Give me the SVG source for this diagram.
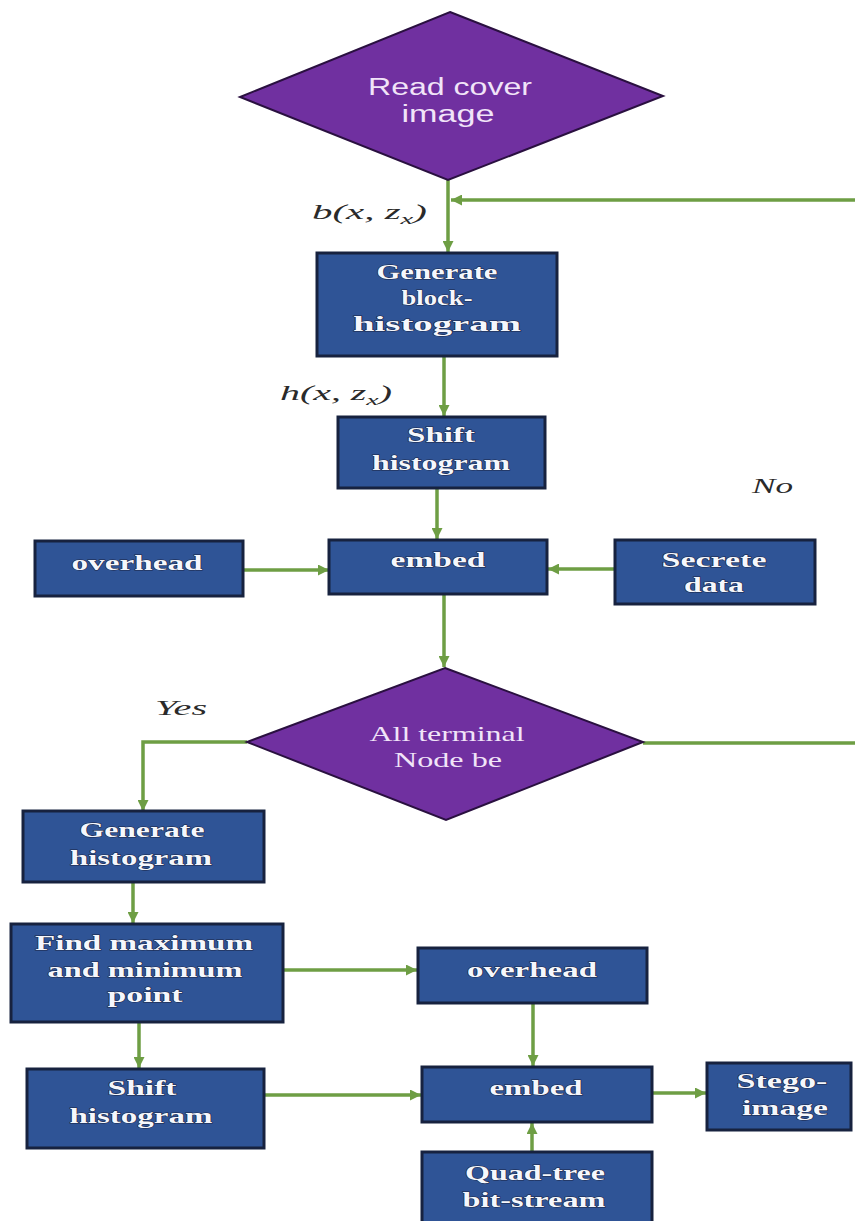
<svg xmlns="http://www.w3.org/2000/svg" width="855" height="1221" viewBox="0 0 855 1221">
<defs>
<style>
.box{fill:#2f5496;stroke:#17223f;stroke-width:3}
.dia{fill:#7030a0;stroke:#2a1040;stroke-width:2}
.bt{font-family:"Liberation Serif","Times New Roman",serif;font-weight:bold;font-size:21px;fill:#f5f7fc;stroke:#1a2445;stroke-width:1;paint-order:stroke;text-anchor:middle}
.dt{font-family:"Liberation Sans",Arial,sans-serif;font-size:23px;fill:#f1e4f8;text-anchor:middle}
.ds{font-family:"Liberation Serif","Times New Roman",serif;font-size:21px;fill:#f1e4f8;text-anchor:middle}
.lb{font-family:"Liberation Serif","Times New Roman",serif;font-style:italic;font-size:20px;fill:#2a2a2a}
.c{fill:none;stroke:#6e9e44;stroke-width:3.5}
</style>
<marker id="ah" viewBox="0 0 10 10" refX="10" refY="5" markerWidth="11" markerHeight="11" markerUnits="userSpaceOnUse" orient="auto">
<path d="M0,0 L10,5 L0,10 z" fill="#6e9e44"/>
</marker>
</defs>
<rect width="855" height="1221" fill="#ffffff"/>

<g id="connectors">
<path class="c" d="M448,180 V252" marker-end="url(#ah)"/>
<path class="c" d="M643,743 H858 V200 H451" marker-end="url(#ah)"/>
<path class="c" d="M444,357 V416" marker-end="url(#ah)"/>
<path class="c" d="M437,488 V539" marker-end="url(#ah)"/>
<path class="c" d="M243,570 H329" marker-end="url(#ah)"/>
<path class="c" d="M615,569 H548" marker-end="url(#ah)"/>
<path class="c" d="M444,594 V667" marker-end="url(#ah)"/>
<path class="c" d="M247,742 H143 V811" marker-end="url(#ah)"/>
<path class="c" d="M133,882 V923" marker-end="url(#ah)"/>
<path class="c" d="M139,1022 V1068" marker-end="url(#ah)"/>
<path class="c" d="M283,970 H417" marker-end="url(#ah)"/>
<path class="c" d="M264,1095 H421" marker-end="url(#ah)"/>
<path class="c" d="M533,1003 V1066" marker-end="url(#ah)"/>
<path class="c" d="M532,1152 V1123" marker-end="url(#ah)"/>
<path class="c" d="M652,1093 H706" marker-end="url(#ah)"/>
</g>

<g id="labels">
<text class="lb" x="312" y="219" textLength="115" lengthAdjust="spacingAndGlyphs">b(x, z<tspan font-size="14" dy="5">x</tspan><tspan dy="-5">)</tspan></text>
<text class="lb" x="280" y="400" textLength="112" lengthAdjust="spacingAndGlyphs">h(x, z<tspan font-size="14" dy="5">x</tspan><tspan dy="-5">)</tspan></text>
<text class="lb" x="752" y="493" textLength="41" lengthAdjust="spacingAndGlyphs">No</text>
<text class="lb" x="155" y="715" textLength="52" lengthAdjust="spacingAndGlyphs">Yes</text>
</g>

<g id="read-cover">
<polygon class="dia" points="450,12 663,96 448,180 240,97"/>
<text class="dt" x="450" y="95" textLength="164" lengthAdjust="spacingAndGlyphs">Read cover</text>
<text class="dt" x="448" y="122" textLength="93" lengthAdjust="spacingAndGlyphs">image</text>
</g>

<g id="gen-block">
<rect class="box" x="317" y="253" width="240" height="103"/>
<text class="bt" x="437" y="279" textLength="121" lengthAdjust="spacingAndGlyphs">Generate</text>
<text class="bt" x="437" y="305" textLength="71" lengthAdjust="spacingAndGlyphs">block-</text>
<text class="bt" x="437" y="331" textLength="168" lengthAdjust="spacingAndGlyphs">histogram</text>
</g>

<g id="shift-1">
<rect class="box" x="338" y="417" width="207" height="71"/>
<text class="bt" x="441" y="442" textLength="68" lengthAdjust="spacingAndGlyphs">Shift</text>
<text class="bt" x="441" y="470" textLength="138" lengthAdjust="spacingAndGlyphs">histogram</text>
</g>

<g id="overhead-1">
<rect class="box" x="35" y="541" width="208" height="55"/>
<text class="bt" x="137" y="570" textLength="131" lengthAdjust="spacingAndGlyphs">overhead</text>
</g>

<g id="embed-1">
<rect class="box" x="329" y="540" width="218" height="54"/>
<text class="bt" x="438" y="567" textLength="95" lengthAdjust="spacingAndGlyphs">embed</text>
</g>

<g id="secrete">
<rect class="box" x="615" y="540" width="200" height="64"/>
<text class="bt" x="714" y="567" textLength="105" lengthAdjust="spacingAndGlyphs">Secrete</text>
<text class="bt" x="714" y="592" textLength="60" lengthAdjust="spacingAndGlyphs">data</text>
</g>

<g id="terminal">
<polygon class="dia" points="445,668 643,742 446,820 247,742"/>
<text class="ds" x="447" y="741" textLength="155" lengthAdjust="spacingAndGlyphs">All terminal</text>
<text class="ds" x="448" y="767" textLength="108" lengthAdjust="spacingAndGlyphs">Node be</text>
</g>

<g id="gen-hist">
<rect class="box" x="23" y="811" width="241" height="71"/>
<text class="bt" x="142" y="837" textLength="125" lengthAdjust="spacingAndGlyphs">Generate</text>
<text class="bt" x="141" y="865" textLength="142" lengthAdjust="spacingAndGlyphs">histogram</text>
</g>

<g id="find-max">
<rect class="box" x="11" y="924" width="272" height="98"/>
<text class="bt" x="144" y="950" textLength="218" lengthAdjust="spacingAndGlyphs">Find maximum</text>
<text class="bt" x="145" y="977" textLength="195" lengthAdjust="spacingAndGlyphs">and minimum</text>
<text class="bt" x="145" y="1002" textLength="75" lengthAdjust="spacingAndGlyphs">point</text>
</g>

<g id="shift-2">
<rect class="box" x="27" y="1069" width="237" height="79"/>
<text class="bt" x="142" y="1095" textLength="69" lengthAdjust="spacingAndGlyphs">Shift</text>
<text class="bt" x="141" y="1123" textLength="143" lengthAdjust="spacingAndGlyphs">histogram</text>
</g>

<g id="overhead-2">
<rect class="box" x="418" y="948" width="229" height="55"/>
<text class="bt" x="532" y="977" textLength="130" lengthAdjust="spacingAndGlyphs">overhead</text>
</g>

<g id="embed-2">
<rect class="box" x="422" y="1067" width="230" height="55"/>
<text class="bt" x="536" y="1095" textLength="93" lengthAdjust="spacingAndGlyphs">embed</text>
</g>

<g id="stego">
<rect class="box" x="707" y="1063" width="144" height="67"/>
<text class="bt" x="782" y="1088" textLength="91" lengthAdjust="spacingAndGlyphs">Stego-</text>
<text class="bt" x="785" y="1115" textLength="86" lengthAdjust="spacingAndGlyphs">image</text>
</g>

<g id="quadtree">
<rect class="box" x="422" y="1152" width="230" height="75"/>
<text class="bt" x="535" y="1180" textLength="140" lengthAdjust="spacingAndGlyphs">Quad-tree</text>
<text class="bt" x="534" y="1207" textLength="143" lengthAdjust="spacingAndGlyphs">bit-stream</text>
</g>
</svg>
